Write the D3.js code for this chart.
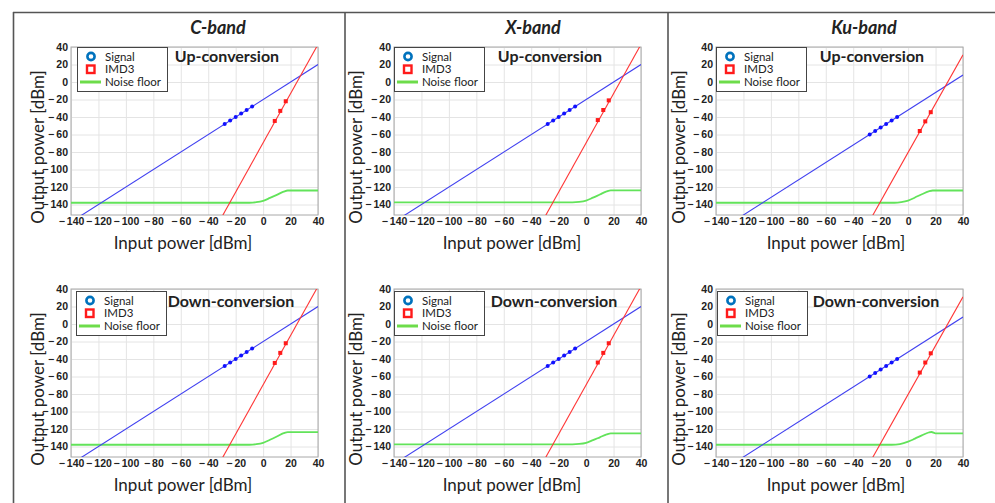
<html>
<head>
<script src="https://d3js.org/d3.v7.min.js"></script>
<style>
  body { margin: 0; background: #fff; }
  .grid line { stroke: #e4e4e4; }
  .grid .domain { stroke: none; }
  .tick text { font-family: "Liberation Sans", Arial, sans-serif; font-weight: bold; font-size: 10.5px; fill: #222; }
  .lbl { font-family: Lato, "Open Sans", sans-serif; fill: #222; }
</style>
</head>
<body>
<svg id="fig" width="995" height="503"></svg>
<script>
// ---- data ----
const bands = ["C-band", "X-band", "Ku-band"];
const modes = ["Up-conversion", "Down-conversion"];
const xTicks = [-140, -120, -100, -80, -60, -40, -20, 0, 20, 40];
const yTicks = [-140, -120, -100, -80, -60, -40, -20, 0, 20, 40];
const xDomain = [-140, 40];
const yDomain = [-152, 40];

// measured signal points (input power -> output power, dBm)
const sigPin = [-28, -24, -20, -16, -12, -8];
const sigOutC = [-48, -44, -40, -36, -32, -28];
const sigOutX = [-48, -44, -40, -36, -32, -28];
const sigOutKu = [-60, -56, -52, -48, -44, -40];

// measured IMD3 points
const imdPin = [8.5, 12.5, 16.5];
const imdOutCUp = [-44.5, -33, -22];
const imdOutXUp = [-43.5, -32, -21];
const imdOutKuUp = [-56, -45, -34.5];
const imdOutCDown = [-44.5, -33, -22];
const imdOutXDown = [-44, -33, -22];
const imdOutKuDown = [-55.5, -44, -33.5];

// fitted lines (two end points each)
const sigFitC = [[-140, -160], [40, 20]];
const sigFitKu = [[-140, -172], [40, 8]];
const imdFitCX = [[-30, -154], [40, 43]];
const imdFitKu = [[-26, -153], [40, 31]];

// noise floor curves
const noisePin = [-140, -10, -5, 0, 5, 10, 15, 18, 40];
const noiseCUp = [-138, -138, -137.4, -135.8, -132.5, -129, -125.3, -124, -124];
const noiseXUp = [-137.5, -137.5, -137, -135.5, -132.2, -128.6, -125, -123.8, -123.8];
const noiseKuUp = [-138, -138, -137.3, -135.5, -132, -128.3, -125, -124, -124];
const noiseCDown = [-138, -138, -137.4, -135.8, -132.3, -128.6, -124.8, -123.5, -123.5];
const noiseXDown = [-137.5, -137.5, -137.1, -135.8, -132.8, -129.5, -126.2, -125, -125];
const noisePinKuDown = [-140, -12, -6, 0, 5, 10, 15, 17, 20, 40];
const noiseKuDown = [-138, -138, -137.2, -134.5, -131, -127.3, -124, -123.4, -125, -125];

// ---- layout ----
const svg = d3.select("#fig");
const plotW = 247, plotH = 168;
const colLeft = [71, 394, 716];
const rowTop = [47, 289];
const titleX = [218, 533, 864];

const panels = [
  {c: 0, r: 0, sig: sigOutC, imd: imdOutCUp, sFit: sigFitC, iFit: imdFitCX, nx: noisePin, ny: noiseCUp, legDx: 6},
  {c: 1, r: 0, sig: sigOutX, imd: imdOutXUp, sFit: sigFitC, iFit: imdFitCX, nx: noisePin, ny: noiseXUp, legDx: 0},
  {c: 2, r: 0, sig: sigOutKu, imd: imdOutKuUp, sFit: sigFitKu, iFit: imdFitKu, nx: noisePin, ny: noiseKuUp, legDx: 0},
  {c: 0, r: 1, sig: sigOutC, imd: imdOutCDown, sFit: sigFitC, iFit: imdFitCX, nx: noisePin, ny: noiseCDown, legDx: 5},
  {c: 1, r: 1, sig: sigOutX, imd: imdOutXDown, sFit: sigFitC, iFit: imdFitCX, nx: noisePin, ny: noiseXDown, legDx: 0},
  {c: 2, r: 1, sig: sigOutKu, imd: imdOutKuDown, sFit: sigFitKu, iFit: imdFitKu, nx: noisePinKuDown, ny: noiseKuDown, legDx: 1}
];

// table borders
const border = svg.append("g").attr("stroke", "#555").attr("stroke-width", 1.6);
border.append("line").attr("x1", 13).attr("x2", 995).attr("y1", 12.5).attr("y2", 12.5);
[13.5, 345, 668].forEach(x => {
  border.append("line").attr("x1", x).attr("x2", x).attr("y1", 12).attr("y2", 503);
});

// band titles
bands.forEach((b, i) => {
  svg.append("text").attr("class", "lbl")
    .attr("x", titleX[i]).attr("y", 34)
    .attr("text-anchor", "middle")
    .attr("font-size", 18).attr("font-weight", "bold").attr("font-style", "italic")
    .text(b);
});

const fmt = d => d < 0 ? "\u2212\u2009" + (-d) : String(d);

panels.forEach((p, i) => {
  const x0 = colLeft[p.c], y0 = rowTop[p.r];
  const g = svg.append("g").attr("transform", `translate(${x0},${y0})`);
  const x = d3.scaleLinear().domain(xDomain).range([0, plotW]);
  const y = d3.scaleLinear().domain(yDomain).range([plotH, 0]);

  // grid
  g.append("g").attr("class", "grid")
    .call(d3.axisBottom(x).tickValues(xTicks).tickSize(plotH).tickFormat(""));
  g.append("g").attr("class", "grid")
    .call(d3.axisLeft(y).tickValues(yTicks).tickSize(-plotW).tickFormat(""));

  // tick labels
  const xa = g.append("g").attr("transform", `translate(0,${plotH})`)
    .call(d3.axisBottom(x).tickValues(xTicks).tickSize(0).tickPadding(3).tickFormat(fmt));
  xa.select(".domain").remove();
  const ya = g.append("g")
    .call(d3.axisLeft(y).tickValues(yTicks).tickSize(0).tickPadding(3).tickFormat(fmt));
  ya.select(".domain").remove();

  // frame
  g.append("rect").attr("width", plotW).attr("height", plotH)
    .attr("fill", "none").attr("stroke", "#a8a8a8").attr("stroke-width", 1);

  // clip
  const cid = "clip" + i;
  g.append("clipPath").attr("id", cid).append("rect").attr("width", plotW).attr("height", plotH);
  const pg = g.append("g").attr("clip-path", `url(#${cid})`);
  const line = d3.line().x(d => x(d[0])).y(d => y(d[1]));

  pg.append("path").datum(p.nx.map((v, k) => [v, p.ny[k]]))
    .attr("fill", "none").attr("stroke", "#62e35a").attr("stroke-width", 1.8)
    .attr("d", line.curve(d3.curveMonotoneX));
  line.curve(d3.curveLinear);
  pg.append("path").datum(p.sFit)
    .attr("fill", "none").attr("stroke", "#4040f0").attr("stroke-width", 1.1).attr("d", line);
  pg.append("path").datum(p.iFit)
    .attr("fill", "none").attr("stroke", "#ff3535").attr("stroke-width", 1.1).attr("d", line);

  pg.selectAll("circle.sig").data(sigPin.map((v, k) => [v, p.sig[k]]))
    .join("circle").attr("class", "sig")
    .attr("cx", d => x(d[0])).attr("cy", d => y(d[1])).attr("r", 2)
    .attr("fill", "#1010ff");
  pg.selectAll("rect.imd").data(imdPin.map((v, k) => [v, p.imd[k]]))
    .join("rect").attr("class", "imd")
    .attr("x", d => x(d[0]) - 2).attr("y", d => y(d[1]) - 2)
    .attr("width", 4).attr("height", 4).attr("fill", "#ff1a1a");

  // legend
  const lg = g.append("g").attr("transform", `translate(${p.legDx},${p.r === 1 ? 2 : 0})`);
  lg.append("rect").attr("x", 0.5).attr("y", 0.5).attr("width", 90).attr("height", 44)
    .attr("fill", "#fff").attr("stroke", "#444").attr("stroke-width", 1);
  lg.append("circle").attr("cx", 14).attr("cy", 9.5).attr("r", 3.6)
    .attr("fill", "#fff").attr("stroke", "#0072bd").attr("stroke-width", 2.6);
  lg.append("rect").attr("x", 10).attr("y", 18.5).attr("width", 7.5).attr("height", 7.5)
    .attr("fill", "#fff").attr("stroke", "#ff1a1a").attr("stroke-width", 2.4);
  lg.append("line").attr("x1", 3).attr("x2", 24).attr("y1", 35).attr("y2", 35)
    .attr("stroke", "#6ddc4a").attr("stroke-width", 3);
  ["Signal", "IMD3", "Noise floor"].forEach((t, k) => {
    lg.append("text").attr("class", "lbl").attr("x", 28).attr("y", 13.5 + k * 12.8)
      .attr("font-size", 11.5).text(t);
  });

  // mode label
  g.append("text").attr("class", "lbl")
    .attr("x", p.r === 0 ? 156 : 160).attr("y", p.r === 0 ? 15 : 18)
    .attr("text-anchor", "middle").attr("font-size", 16).attr("font-weight", "bold")
    .text(modes[p.r]);

  // axis titles
  g.append("text").attr("class", "lbl")
    .attr("x", [112, 118, 120][p.c]).attr("y", plotH + 34)
    .attr("text-anchor", "middle").attr("font-size", 17)
    .text("Input power [dBm]");
  g.append("text").attr("class", "lbl")
    .attr("transform", `translate(${[-27, -32, -31][p.c]},${100}) rotate(-90)`)
    .attr("text-anchor", "middle").attr("font-size", 17)
    .text("Output power [dBm]");
});
</script>
</body>
</html>
